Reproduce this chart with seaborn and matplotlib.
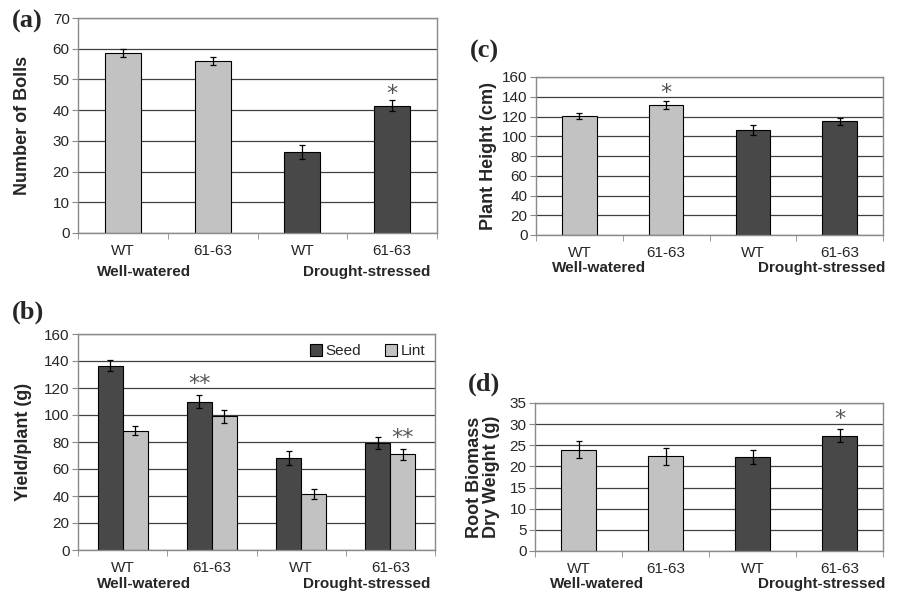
import pandas as pd
import matplotlib
matplotlib.use("Agg")
import matplotlib.pyplot as plt
import seaborn as sns

# data
tick_labels = ["WT", "61-63", "WT", "61-63"]
keys = ["WW-WT", "WW-6163", "DS-WT", "DS-6163"]
conds = ["Well-watered", "Well-watered", "Drought-stressed", "Drought-stressed"]

bolls = [58.7, 56.0, 26.3, 41.5]
bolls_err = [1.3, 1.3, 2.2, 1.8]

height = [120.5, 131.5, 106.0, 115.0]
height_err = [3.0, 4.0, 5.0, 3.5]

seed = [136.5, 110.0, 68.0, 79.0]
seed_err = [4.0, 5.0, 5.0, 4.5]
lint = [88.5, 99.0, 41.5, 71.0]
lint_err = [3.0, 5.0, 3.5, 4.0]

root = [24.0, 22.4, 22.2, 27.3]
root_err = [2.0, 2.0, 1.6, 1.5]

LIGHT = "#c2c2c2"
DARK = "#484848"
GRID = "#404040"
SPINE = "#8a8a8a"

sns.set_style("white")
plt.rcParams["font.family"] = ["Liberation Sans", "DejaVu Sans"]

W, H = 897, 593
fig = plt.figure(figsize=(W / 100, H / 100), dpi=100)


def box(l, r, t, b):
    return [l / W, (H - b) / H, (r - l) / W, (b - t) / H]


def style_axes(ax, ymax, ystep, ylabel, labx):
    ax.set_xlim(-0.5, 3.5)
    ax.set_ylim(0, ymax)
    ax.set_yticks(range(0, ymax + 1, ystep))
    ax.set_xticks(range(4))
    ax.set_xticklabels(tick_labels)
    ax.set_xticks([-0.5, 0.5, 1.5, 2.5, 3.5], minor=True)
    ax.tick_params(axis="x", which="major", length=0, labelsize=11, pad=8)
    ax.tick_params(axis="x", which="minor", length=4, color=SPINE, direction="out", bottom=True)
    ax.tick_params(axis="y", length=4, color=SPINE, direction="out", left=True, labelsize=11, pad=2)
    ax.yaxis.grid(True, color=GRID, lw=0.9)
    ax.set_axisbelow(True)
    for s in ax.spines.values():
        s.set_color(SPINE)
        s.set_linewidth(1)
    ax.set_xlabel("")
    ax.set_ylabel(ylabel, fontsize=13, fontweight="bold", linespacing=1.05)
    ax.yaxis.set_label_coords(labx, 0.5)


def group_labels(ax, ypix, lpix, rpix):
    fig.text(lpix / W, 1 - ypix / H, "Well-watered", fontsize=11, fontweight="bold",
             ha="left", va="center")
    fig.text(rpix / W, 1 - ypix / H, "Drought-stressed", fontsize=11, fontweight="bold",
             ha="right", va="center")


def panel_label(txt, xpix, ypix):
    fig.text(xpix / W, 1 - ypix / H, txt, fontsize=19, fontweight="bold",
             family="Liberation Serif", ha="left", va="center")


def star(ax, x, y, txt="*"):
    ax.text(x, y, txt, ha="center", va="center", fontsize=16, color="#555555",
            family="DejaVu Sans")


def single_panel(ax, vals, errs, ymax, ystep, ylabel, labx):
    df = pd.DataFrame({"key": keys, "val": vals, "cond": conds})
    sns.barplot(data=df, x="key", y="val", hue="cond", dodge=False, width=0.4,
                palette={"Well-watered": LIGHT, "Drought-stressed": DARK},
                edgecolor="black", linewidth=0.8, legend=False, ax=ax)
    ax.errorbar(range(4), vals, yerr=errs, fmt="none", ecolor="black",
                elinewidth=0.9, capsize=2.5, capthick=0.9)
    style_axes(ax, ymax, ystep, ylabel, labx)


# (a) number of bolls
ax_a = fig.add_axes(box(78, 437, 18, 233))
single_panel(ax_a, bolls, bolls_err, 70, 10, "Number of Bolls", -0.13)
star(ax_a, 3, 45.3)
group_labels(ax_a, 272, 97, 430)
panel_label("(a)", 12, 21)

# (c) plant height
ax_c = fig.add_axes(box(536, 883, 77, 235))
single_panel(ax_c, height, height_err, 160, 20, "Plant Height (cm)", -0.113)
star(ax_c, 1, 144)
group_labels(ax_c, 268, 552, 885)
panel_label("(c)", 470, 51)

# (b) yield
ax_b = fig.add_axes(box(78, 435, 334, 550))
df_b = pd.DataFrame({
    "key": keys * 2,
    "val": seed + lint,
    "part": ["Seed"] * 4 + ["Lint"] * 4,
})
bw = 0.56
sns.barplot(data=df_b, x="key", y="val", hue="part", width=bw,
            palette={"Seed": DARK, "Lint": LIGHT}, edgecolor="black",
            linewidth=0.8, ax=ax_b)
xs = list(range(4))
ax_b.errorbar([x - bw / 4 for x in xs], seed, yerr=seed_err, fmt="none",
              ecolor="black", elinewidth=0.9, capsize=2.5, capthick=0.9)
ax_b.errorbar([x + bw / 4 for x in xs], lint, yerr=lint_err, fmt="none",
              ecolor="black", elinewidth=0.9, capsize=2.5, capthick=0.9)
style_axes(ax_b, 160, 20, "Yield/plant (g)", -0.13)
star(ax_b, 1 - bw / 4, 123, "**")
star(ax_b, 3 + bw / 4, 83, "**")
leg = ax_b.legend(loc="upper right", frameon=False, ncol=2, fontsize=11,
                  handlelength=0.8, handleheight=0.8, handletextpad=0.2,
                  columnspacing=1.6, borderaxespad=0.25)
group_labels(ax_b, 584, 97, 430)
panel_label("(b)", 12, 312)

# (d) root biomass
ax_d = fig.add_axes(box(535, 883, 403, 551))
single_panel(ax_d, root, root_err, 35, 5, "Root Biomass\nDry Weight (g)", -0.1)
star(ax_d, 3, 31.2)
group_labels(ax_d, 584, 550, 885)
panel_label("(d)", 468, 384)

fig.savefig("out.png", dpi=100)
